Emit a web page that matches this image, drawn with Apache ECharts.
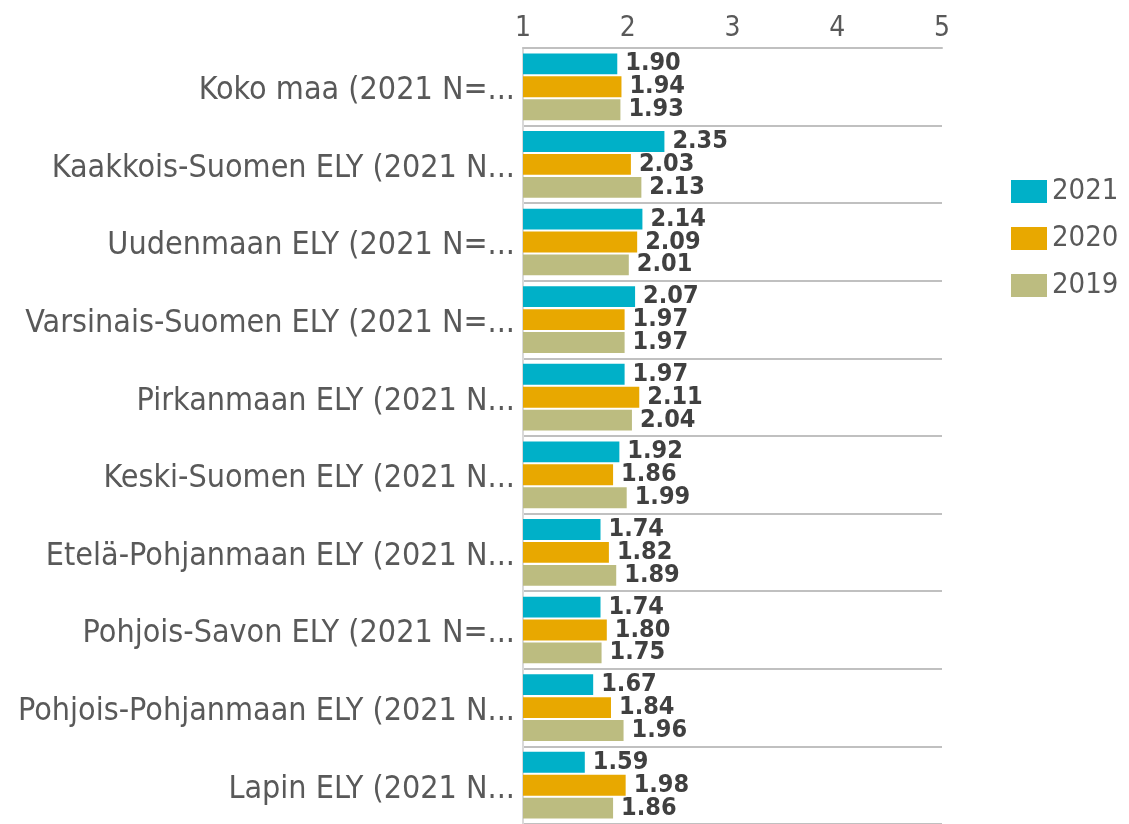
<!DOCTYPE html>
<html>
<head>
<meta charset="utf-8">
<script src="https://cdn.jsdelivr.net/npm/echarts@6/dist/echarts.min.js"></script>
<style>
  html, body { margin: 0; padding: 0; background: #fff; }
  #chart { width: 1129px; height: 824px; }
</style>
</head>
<body>
<div id="chart"></div>
<script>
// categories (top to bottom)
const categories = [
  'Koko maa (2021 N=...',
  'Kaakkois-Suomen ELY (2021 N...',
  'Uudenmaan ELY (2021 N=...',
  'Varsinais-Suomen ELY (2021 N=...',
  'Pirkanmaan ELY (2021 N...',
  'Keski-Suomen ELY (2021 N...',
  'Etelä-Pohjanmaan ELY (2021 N...',
  'Pohjois-Savon ELY (2021 N=...',
  'Pohjois-Pohjanmaan ELY (2021 N...',
  'Lapin ELY (2021 N...'
]

const values2021 = [1.90, 2.35, 2.14, 2.07, 1.97, 1.92, 1.74, 1.74, 1.67, 1.59]
const values2020 = [1.94, 2.03, 2.09, 1.97, 2.11, 1.86, 1.82, 1.80, 1.84, 1.98]
const values2019 = [1.93, 2.13, 2.01, 1.97, 2.04, 1.99, 1.89, 1.75, 1.96, 1.86]

const xTicks = [1, 2, 3, 4, 5]

const font = '"DejaVu Sans Condensed", Tahoma, "DejaVu Sans", sans-serif'

const chart = echarts.init(document.getElementById('chart'))

const barLabel = {
  show: true,
  position: 'right',
  distance: 8,
  color: '#404040',
  fontWeight: 'bold',
  fontSize: 25,
  fontFamily: font,
  formatter: p => p.value.toFixed(2)
}

const makeSeries = (name, data, color) => ({
  name: name,
  type: 'bar',
  data: data,
  barGap: '10%',
  barCategoryGap: '14%',
  itemStyle: { color: color },
  label: barLabel
})

const option = {
  animation: false,
  textStyle: { fontFamily: font },
  grid: {
    left: 523,
    right: 187,
    top: 48,
    height: 780,
    containLabel: false
  },
  legend: {
    orient: 'vertical',
    left: 1006,
    top: 172,
    icon: 'rect',
    itemWidth: 36,
    itemHeight: 23,
    itemGap: 18,
    textStyle: { fontSize: 29, color: '#595959', fontFamily: font },
    data: ['2021', '2020', '2019']
  },
  xAxis: {
    type: 'value',
    position: 'top',
    min: xTicks[0],
    max: xTicks[xTicks.length - 1],
    interval: 1,
    axisLine: { show: true, lineStyle: { color: '#c0c0c0', width: 2 } },
    axisTick: { show: false },
    splitLine: { show: false },
    axisLabel: { color: '#595959', fontSize: 28, margin: 5, fontFamily: font }
  },
  yAxis: {
    type: 'category',
    inverse: true,
    data: categories,
    axisLine: { show: true, lineStyle: { color: '#d9d9d9', width: 2 } },
    axisTick: { show: false },
    splitLine: { show: true, lineStyle: { color: '#c0c0c0', width: 2 } },
    axisLabel: {
      margin: 8,
      formatter: v => '{c|' + v + '}',
      rich: {
        c: {
          color: '#595959',
          fontSize: 32,
          fontFamily: font,
          padding: [8, 0, 0, 0]
        }
      }
    }
  },
  series: [
    makeSeries('2021', values2021, '#00b0c8'),
    makeSeries('2020', values2020, '#e8a800'),
    makeSeries('2019', values2019, '#bcbc80')
  ]
}

chart.setOption(option)
</script>
</body>
</html>
